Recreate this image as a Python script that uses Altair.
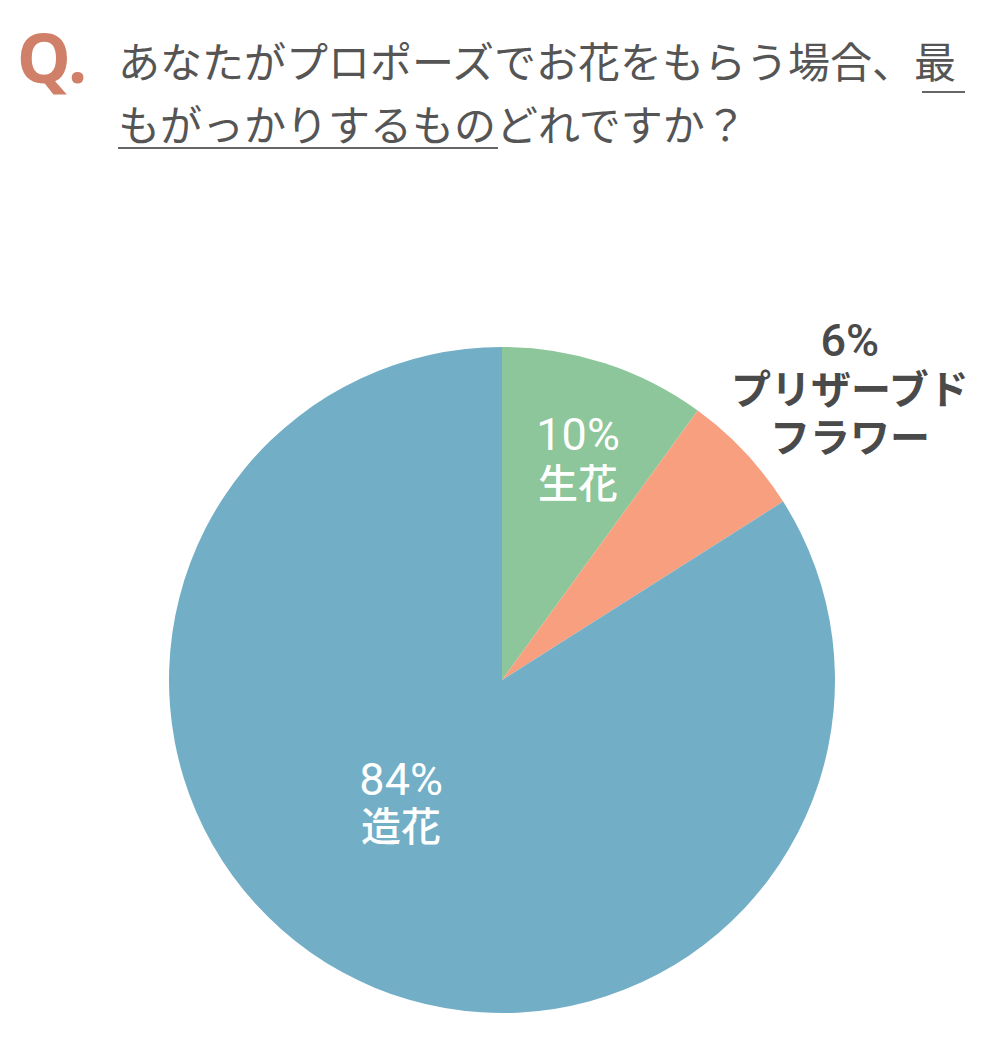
import altair as alt
import pandas as pd

# ---- data ----
categories = ["生花", "プリザーブドフラワー", "造花"]
values = [10, 6, 84]
pct_labels = ["10%", "6%", "84%"]
name_labels = ["生花", "プリザーブド\nフラワー", "造花"]
colors = ["#8cc69a", "#f79f7f", "#72afc6"]

title_q = ["Q."]
title_lines = ["あなたがプロポーズでお花をもらう場合、最", "もがっかりするものどれですか？"]

df = pd.DataFrame({
    "cat": categories,
    "value": values,
    "order": list(range(len(categories))),
    "pct": pct_labels,
    "name": name_labels,
})

CX, CY = 494, 672
FONT = "Noto Sans CJK JP"
NUMFONT = "Roboto"

base = alt.Chart(df)

pie = base.mark_arc(radius=333, stroke=None).encode(
    theta=alt.Theta("value:Q", stack=True),
    color=alt.Color("cat:N", scale=alt.Scale(domain=categories, range=colors), legend=None),
    order=alt.Order("order:Q"),
    x=alt.value(CX),
    y=alt.value(CY),
)

lab_base = base.transform_window(
    cum="sum(value)", sort=[alt.SortField("order")]
).transform_calculate(mid="datum.cum - datum.value / 2")


def label(cat, field, radius, dx, dy, color, weight, size, font):
    return lab_base.transform_filter(alt.datum.cat == cat).mark_text(
        radius=radius, dx=dx, dy=dy, color=color, font=font, fontSize=size,
        fontWeight=weight, lineBreak="\n", lineHeight=48, align="center", baseline="middle",
    ).encode(
        theta=alt.Theta("mid:Q", scale=alt.Scale(domain=[0, 100]), stack=False),
        text=f"{field}:N",
        x=alt.value(CX),
        y=alt.value(CY),
    )


labels = [
    label("生花", "pct", 230, 5, -25, "white", 400, 45, NUMFONT),
    label("生花", "name", 230, 5, 25, "white", 500, 40, FONT),
    label("プリザーブドフラワー", "pct", 421, 41, -50, "#4a4a4a", 500, 45, NUMFONT),
    label("プリザーブドフラワー", "name", 421, 41, 0, "#4a4a4a", "bold", 40, FONT),
    label("造花", "pct", 143, -32, -24, "white", 400, 45, NUMFONT),
    label("造花", "name", 143, -32, 24, "white", 500, 40, FONT),
]

tq = alt.Chart(pd.DataFrame({"t": title_q})).mark_text(
    font="Noto Sans", fontSize=68, fontWeight="bold", color="#d08068",
    align="left", baseline="middle",
).encode(text="t:N", x=alt.value(9), y=alt.value(55))

tdf = pd.DataFrame({"t": title_lines, "i": [0, 1]})
t1 = alt.Chart(tdf).transform_filter(alt.datum.i == 0).mark_text(
    font=FONT, fontSize=42, color="#555555", align="left", baseline="middle",
).encode(text="t:N", x=alt.value(110), y=alt.value(57))
t2 = alt.Chart(tdf).transform_filter(alt.datum.i == 1).mark_text(
    font=FONT, fontSize=42, color="#555555", align="left", baseline="middle",
).encode(text="t:N", x=alt.value(110), y=alt.value(120))

u1 = alt.Chart(tdf).transform_filter(alt.datum.i == 0).mark_rule(
    color="#666666", strokeWidth=2
).encode(x=alt.value(914), x2=alt.value(957), y=alt.value(84))
u2 = alt.Chart(tdf).transform_filter(alt.datum.i == 1).mark_rule(
    color="#666666", strokeWidth=2
).encode(x=alt.value(110), x2=alt.value(490), y=alt.value(140))

chart = alt.layer(pie, *labels, tq, t1, t2, u1, u2).properties(
    width=984, height=1028,
    autosize=alt.AutoSizeParams(type="none"),
    padding=0,
    background="white",
).configure_view(stroke=None)

chart.save("out.html", embed_options={"renderer": "svg", "actions": False})
